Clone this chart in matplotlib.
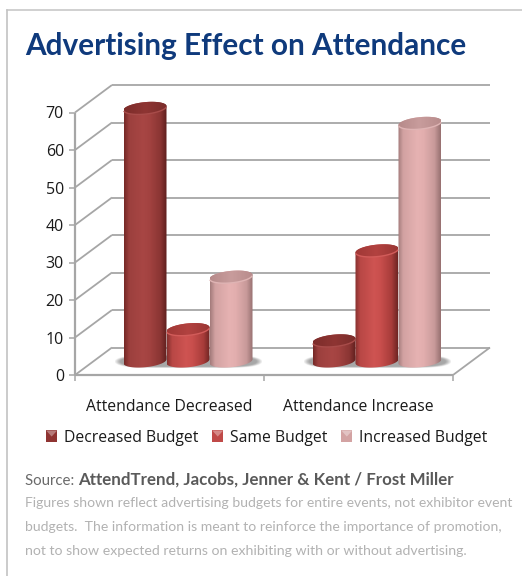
import numpy as np
import matplotlib
matplotlib.use("Agg")
import matplotlib.pyplot as plt
from matplotlib.colors import LinearSegmentedColormap
from matplotlib.lines import Line2D
from matplotlib.patches import Patch, PathPatch, Polygon, Rectangle
from matplotlib.path import Path
from matplotlib.legend_handler import HandlerPatch

# ---------- data ----------
categories = ["Attendance Decreased", "Attendance Increase"]
series_names = ["Decreased Budget", "Same Budget", "Increased Budget"]
decreased_budget = [67.5, 5.5]
same_budget = [8.5, 29.5]
increased_budget = [22.5, 63.5]
y_ticks = [0, 10, 20, 30, 40, 50, 60, 70]

title = "Advertising Effect on Attendance"
source_lead = "Source: "
source_bold = "AttendTrend, Jacobs, Jenner & Kent / Frost Miller"
notes = [
    "Figures shown reflect advertising budgets for entire events, not exhibitor event",
    "budgets.  The information is meant to reinforce the importance of promotion,",
    "not to show expected returns on exhibiting with or without advertising.",
]

# ---------- style ----------
W, H = 522, 576
GRID = "#a6a6a6"
BODY = ["Lato", "DejaVu Sans"]
LABEL = ["Open Sans", "DejaVu Sans"]
side_stops = [
    ["#752826", "#9c403e", "#a84644", "#a24240", "#8a3533", "#5e1e1d"],
    ["#84302e", "#b84745", "#cf5452", "#c84e4c", "#a83c3a", "#6e2422"],
    ["#a27a7a", "#d2a2a2", "#e6b2b2", "#e2aeae", "#c89a9a", "#967070"],
]
top_stops = [
    ["#7c2c2a", "#8e3533", "#7a2d2b"],
    ["#a03836", "#b24240", "#9a3634"],
    ["#b68a8a", "#c89c9c", "#b88c8c"],
]
rim_colors = ["#a84c4a", "#d25c5a", "#dfb4b4"]
legend_fill = ["#8f3432", "#c04a48", "#d3a3a3"]

fig = plt.figure(figsize=(W / 100, H / 100), dpi=100, facecolor="white")
AX_L, AX_R, AX_B, AX_T = 75, 453, 375, 112.5
ax = fig.add_axes([AX_L / W, 1 - AX_B / H, (AX_R - AX_L) / W, (AX_B - AX_T) / H])
ax.set_xlim(0, 2)
ax.set_ylim(0, 70)
for s in ax.spines.values():
    s.set_visible(False)
ax.patch.set_visible(False)

PX_X = 2 / (AX_R - AX_L)
PX_Y = 70 / (AX_B - AX_T)
DX, DY = 37 * PX_X, 27.5 * PX_Y


def gline(xs, ys, z=1, lw=1.3):
    ax.add_line(Line2D(xs, ys, color=GRID, lw=lw, clip_on=False, zorder=z, solid_capstyle="butt"))


# walls and grid
for v in y_ticks:
    gline([0, DX], [v, v + DY])
    gline([DX, 2 + DX], [v + DY, v + DY])
gline([0, 0], [0, 70], lw=1.6)
gline([0, 2], [0, 0], lw=1.6)
gline([2, 2 + DX], [0, DY])

ax.set_yticks(y_ticks)
ax.set_xticks([0.5, 1.5])
ax.set_xticklabels(categories, family=LABEL, fontsize=11.3, color="#1a1a1a")
ax.set_xticks([0, 1, 2], minor=True)
ax.tick_params(axis="x", which="major", length=0, pad=17)
ax.tick_params(axis="x", which="minor", length=4, width=1.1, color=GRID)
ax.tick_params(axis="y", length=4, width=1.1, color=GRID, pad=4)
for t in ax.get_yticklabels():
    t.set_family(LABEL)
    t.set_fontsize(11.5)
    t.set_color("#1a1a1a")

# cylinders
BAR_W = 43 * PX_X
FIRST = 30 / 189
SEMI_A = BAR_W / 2
SEMI_B = 6 * PX_Y
TILT = 2.0 * PX_Y
values = [decreased_budget, same_budget, increased_budget]
theta = np.linspace(0, 2 * np.pi, 120)


def ell(cx, cy, ths):
    return cx + SEMI_A * np.cos(ths), cy + SEMI_B * np.sin(ths) + TILT * np.cos(ths)


def gradient(cmap, extent, clip, z, vertical=False):
    g = np.linspace(0, 1, 256)
    arr = g[:, None] if vertical else g[None, :]
    im = ax.imshow(arr, cmap=cmap, extent=extent, aspect="auto", zorder=z, origin="lower", vmin=0, vmax=1)
    im.set_clip_path(clip)
    im.set_clip_box(fig.bbox)


for c in range(len(categories)):
    # soft floor shadow
    x0 = c + FIRST + DX / 2 - 9 * PX_X
    x1 = x0 + 3 * BAR_W + 18 * PX_X
    base = DY / 2
    nx, ny = 200, 40
    xx = np.linspace(-1, 1, nx)
    yy = np.linspace(-1, 1, ny)
    mx, my = np.meshgrid(xx, yy)
    alpha = np.clip((1.08 - (np.abs(mx) ** 6 + np.abs(my) ** 2)) * 1.3, 0, 0.55)
    rgba = np.zeros((ny, nx, 4))
    rgba[..., :3] = 0.38
    rgba[..., 3] = alpha
    ax.imshow(rgba, extent=(x0, x1, base - 7 * PX_Y, base + 6 * PX_Y), aspect="auto",
              zorder=2, origin="lower", clip_on=False)

z = 3
for c in range(len(categories)):
    for s in range(3):
        v = values[s][c]
        cx = c + FIRST + DX / 2 + (s + 0.5) * BAR_W
        base = DY / 2
        bx, by = ell(cx, base, np.linspace(np.pi, 2 * np.pi, 60))
        tx, ty = ell(cx, base + v, np.linspace(0, np.pi, 60))
        body = PathPatch(Path(np.column_stack([np.r_[bx, tx], np.r_[by, ty]]), closed=False),
                         transform=ax.transData, visible=False)
        ax.add_patch(body)
        cmap = LinearSegmentedColormap.from_list(f"s{s}", list(zip([0, .12, .45, .6, .85, 1], side_stops[s])))
        gradient(cmap, (cx - SEMI_A, cx + SEMI_A, base - 10 * PX_Y, base + v + 10 * PX_Y), body, z)
        z += 1
        ex, ey = ell(cx, base + v, theta)
        cap = Polygon(np.column_stack([ex, ey]), closed=True, transform=ax.transData, visible=False)
        ax.add_patch(cap)
        cmap2 = LinearSegmentedColormap.from_list(f"t{s}", top_stops[s])
        gradient(cmap2, (cx - SEMI_A, cx + SEMI_A, base + v - 8 * PX_Y, base + v + 8 * PX_Y), cap, z)
        z += 1
        rx, ry = ell(cx, base + v, np.linspace(np.pi * 1.08, np.pi * 1.92, 40))
        ax.add_line(Line2D(rx, ry, color=rim_colors[s], lw=1.0, zorder=z, clip_on=False))
        z += 1
ax.set_xlim(0, 2)
ax.set_ylim(0, 70)


# legend
class EnvelopeHandler(HandlerPatch):
    def create_artists(self, legend, orig, xd, yd, w, h, fs, trans):
        side = 8.0
        x, y = (w - side) / 2 - xd, (h - side) / 2 - yd
        rect = Rectangle((x, y), side, side, facecolor=orig.get_facecolor(), edgecolor="none", transform=trans)
        tri = Polygon([[x, y + side], [x + side, y + side], [x + side / 2, y + side * .45]], closed=True,
                      facecolor="white", alpha=0.35, edgecolor="none", transform=trans)
        return [rect, tri]


handles = [Patch(facecolor=col, label=n) for col, n in zip(legend_fill, series_names)]
ax.legend(handles=handles, ncol=3, frameon=False, loc="center",
          bbox_to_anchor=(266.5 / W, 1 - 437.5 / H), bbox_transform=fig.transFigure,
          prop={"family": LABEL, "size": 11.3}, labelcolor="#1a1a1a",
          handlelength=0.72, handletextpad=0.4, columnspacing=0.9, borderpad=0, borderaxespad=0,
          handler_map={Patch: EnvelopeHandler()})


# frame and text
def fx(p):
    return p / W


def fy(p):
    return 1 - p / H


fig.add_artist(Line2D([fx(7), fx(7)], [fy(10), 0], color="#bdbdbd", lw=1.1))
fig.add_artist(Line2D([fx(7), 1], [fy(10), fy(10)], color="#c4c4c4", lw=1.1))

r = fig.canvas.get_renderer()


def fitted(x, y, s, width, **kw):
    t = fig.text(fx(x), fy(y), s, va="baseline", fontsize=10, **kw)
    t.set_fontsize(10 * width / t.get_window_extent(r).width)
    return t


fitted(25.5, 55, title, 444, family=BODY, weight="bold", color="#0f3a7c")

lead = fig.text(fx(25), fy(485), source_lead, family=BODY, fontsize=10.8, color="#6a6a6a", va="baseline")
fitted(78, 485, source_bold, 377, family=BODY, weight="bold", color="#5a5a5a")
for line, base_y, wd in zip(notes, [507, 531, 555], [486, 476, 442]):
    fitted(25, base_y, line, wd, family=BODY, color="#b2b2b2")

fig.savefig("out.png", dpi=100, facecolor="white")
